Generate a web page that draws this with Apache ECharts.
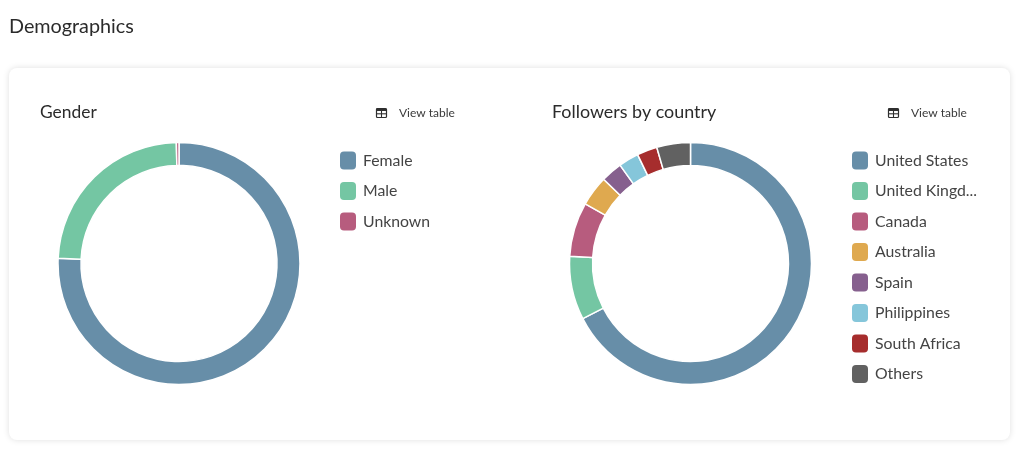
<!DOCTYPE html>
<html>
<head>
<meta charset="utf-8">
<style>html,body{margin:0;padding:0;background:#fff}#c{width:1024px;height:461px}</style>
<script src="https://cdn.jsdelivr.net/npm/echarts@6/dist/echarts.min.js"></script>
</head>
<body>
<div id="c"></div>
<script>
const genderCategories = ['Female', 'Male', 'Unknown'];
const genderValues = [75.7, 23.95, 0.35];
const countryCategories = ['United States', 'United Kingdom', 'Canada', 'Australia', 'Spain', 'Philippines', 'South Africa', 'Others'];
const countryValues = [67.5, 8.5, 7.25, 4.05, 2.85, 2.7, 2.7, 4.5];
const palette = ['#678ea8', '#74c6a3', '#b75c7e', '#dfa94f', '#86608e', '#85c6da', '#a62d2d', '#616161'];
const FONT = 'Lato, "Noto Sans", sans-serif';

function toData(names, values) {
  return names.map((name, i) => ({ name, value: values[i], itemStyle: { color: palette[i] } }));
}
function pie(center, names, values) {
  return {
    type: 'pie', center, radius: [98, 121], startAngle: 90, silent: true,
    label: { show: false }, labelLine: { show: false },
    itemStyle: { borderColor: '#fff', borderWidth: 1.5 },
    data: toData(names, values)
  };
}
function legend(left, top, names) {
  return {
    left, top, padding: 0, orient: 'vertical', data: names, icon: 'roundRect',
    itemWidth: 16, itemHeight: 18, itemGap: 12.5, selectedMode: false,
    itemStyle: { borderWidth: 0 },
    textStyle: { fontFamily: FONT, fontSize: 15.8, color: '#444', padding: [0, 0, 0, 2], width: 110, overflow: 'truncate', ellipsis: '...' }
  };
}
function text(x, y, str, size, color) {
  return { type: 'text', silent: true, x, y, style: { text: str, fontFamily: FONT, fontSize: size, fill: color, textVerticalAlign: 'middle' } };
}
function tableIcon(x, y) {
  const c = '#2f2f2f';
  return { type: 'group', x, y, silent: true, children: [
    { type: 'rect', shape: { x: 0.5, y: 0.5, width: 10, height: 9, r: 1 }, style: { fill: '#fff', stroke: c, lineWidth: 1.2 } },
    { type: 'rect', shape: { x: 0.5, y: 0.5, width: 10, height: 2.5 }, style: { fill: c } },
    { type: 'line', shape: { x1: 0.5, y1: 5.8, x2: 10.5, y2: 5.8 }, style: { stroke: c, lineWidth: 1.1 } },
    { type: 'line', shape: { x1: 5.5, y1: 2, x2: 5.5, y2: 9.5 }, style: { stroke: c, lineWidth: 1.1 } }
  ] };
}

const chart = echarts.init(document.getElementById('c'), null, { renderer: 'canvas' });
chart.setOption({
  animation: false,
  legend: [legend(340, 151.5, genderCategories), legend(852, 151.5, countryCategories)],
  series: [pie([179, 263.5], genderCategories, genderValues), pie([690.5, 263.5], countryCategories, countryValues)],
  graphic: [
    { type: 'rect', silent: true, z: -10, shape: { x: 9, y: 68, width: 1001, height: 372, r: 8 },
      style: { fill: '#fff', shadowBlur: 6, shadowColor: 'rgba(0,0,0,0.13)', shadowOffsetY: 0 } },
    text(9, 26.5, 'Demographics', 19.8, '#2b2b2b'),
    text(40, 112, 'Gender', 17.4, '#2b2b2b'),
    text(552, 112, 'Followers by country', 17.9, '#2b2b2b'),
    tableIcon(376, 108),
    text(399, 113, 'View table', 12, '#3a3a3a'),
    tableIcon(888, 108),
    text(911, 113, 'View table', 12, '#3a3a3a')
  ]
});
</script>
</body>
</html>
